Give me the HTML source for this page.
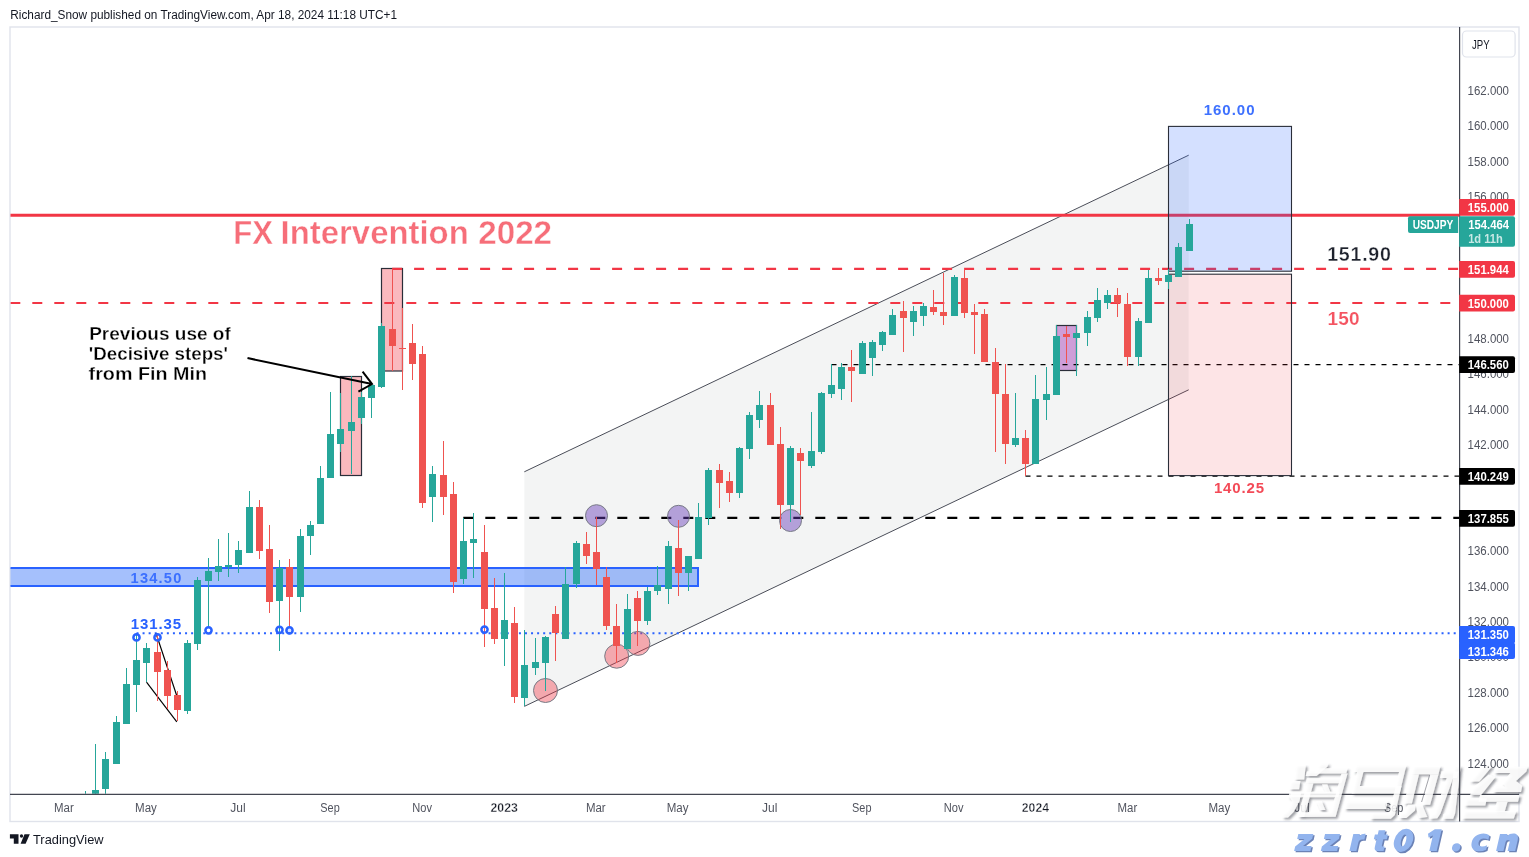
<!DOCTYPE html>
<html><head><meta charset="utf-8"><title>USDJPY</title>
<style>
html,body{margin:0;padding:0;background:#fff;}
body{width:1529px;height:857px;overflow:hidden;font-family:"Liberation Sans",sans-serif;}
svg{display:block;position:absolute;left:0;top:0;}
text{font-family:"Liberation Sans",sans-serif;}
.ax{font-size:12.3px;fill:#50535e;}
.tm{font-size:12.5px;fill:#50535e;}
.lb{font-size:12.7px;font-weight:bold;fill:#fff;}
</style></head><body>
<svg width="1529" height="857" viewBox="0 0 1529 857" style="opacity:0.9999">
<rect x="0" y="0" width="1529" height="857" fill="#fff"/>

<text x="10.3" y="18.7" font-size="12px" fill="#131722" textLength="386.7" lengthAdjust="spacingAndGlyphs">Richard_Snow published on TradingView.com, Apr 18, 2024 11:18 UTC+1</text>
<rect x="10" y="27" width="1509" height="794.5" fill="none" stroke="#e0e3eb" stroke-width="1.4"/>
<defs><clipPath id="cp"><rect x="10.5" y="27.5" width="1448.7" height="766.3"/></clipPath></defs>
<g clip-path="url(#cp)">
<polygon points="524.3,471.8 1188.7,155.2 1188.7,389.8 524.3,706.4" fill="#808585" fill-opacity="0.095"/>
<line x1="524.3" y1="471.8" x2="1188.7" y2="155.2" stroke="#4a4d58" stroke-width="1"/>
<line x1="524.3" y1="706.4" x2="1188.7" y2="389.8" stroke="#4a4d58" stroke-width="1"/>
<rect x="340.5" y="376.5" width="21" height="99" fill="#f23645" fill-opacity="0.35" stroke="#2a2e39" stroke-width="1.2"/>
<rect x="381.5" y="268.5" width="21" height="102.5" fill="#f23645" fill-opacity="0.35" stroke="#2a2e39" stroke-width="1.2"/>
<rect x="1056.5" y="325.5" width="20" height="45" fill="#9c27b0" fill-opacity="0.42" stroke="#2a2e39" stroke-width="1.2"/>
<rect x="0" y="568" width="698" height="18" fill="#2868f8" fill-opacity="0.42" stroke="#2962ff" stroke-width="2"/>
<line x1="10" y1="215.3" x2="1459" y2="215.3" stroke="#f23645" stroke-width="3"/>
<line x1="392.1" y1="268.9" x2="1459" y2="268.9" stroke="#f23645" stroke-width="2.1" stroke-dasharray="10 12"/>
<line x1="10.3" y1="303" x2="1459" y2="303" stroke="#f23645" stroke-width="2.1" stroke-dasharray="10 12"/>
<line x1="463.3" y1="517.8" x2="1459" y2="517.8" stroke="#000" stroke-width="2.2" stroke-dasharray="10 12"/>
<line x1="831.5" y1="364.5" x2="1459" y2="364.5" stroke="#000" stroke-width="1.25" stroke-dasharray="5 6"/>
<line x1="1025.5" y1="476.2" x2="1459" y2="476.2" stroke="#000" stroke-width="1.25" stroke-dasharray="5 6"/>
<line x1="136.5" y1="633.3" x2="1459" y2="633.3" stroke="#2962ff" stroke-width="2" stroke-dasharray="2 4.07"/>
<rect x="1168.5" y="126.4" width="123" height="144.8" fill="#2962ff" fill-opacity="0.2" stroke="#2a2e39" stroke-width="1.1"/>
<rect x="1168.5" y="274.2" width="123" height="201.4" fill="#f23645" fill-opacity="0.135" stroke="#2a2e39" stroke-width="1.1"/>
<circle cx="596.5" cy="515.7" r="11" fill="#673ab7" fill-opacity="0.45" stroke="#787b86" stroke-width="1"/>
<circle cx="678.5" cy="516.3" r="11" fill="#673ab7" fill-opacity="0.45" stroke="#787b86" stroke-width="1"/>
<circle cx="790.5" cy="520.5" r="11" fill="#673ab7" fill-opacity="0.45" stroke="#787b86" stroke-width="1"/>
<circle cx="545.5" cy="690.5" r="12" fill="#f23645" fill-opacity="0.4" stroke="#787b86" stroke-width="1"/>
<circle cx="616.7" cy="656.2" r="12" fill="#f23645" fill-opacity="0.4" stroke="#787b86" stroke-width="1"/>
<circle cx="637.9" cy="643.4" r="12" fill="#f23645" fill-opacity="0.4" stroke="#787b86" stroke-width="1"/>
<line x1="156" y1="633.2" x2="176.6" y2="695.2" stroke="#000" stroke-width="1.15"/>
<line x1="146.5" y1="682.1" x2="176.8" y2="721.8" stroke="#000" stroke-width="1.15"/>
<g shape-rendering="crispEdges">
<rect x="85.0" y="791.0" width="1" height="3.0" fill="#26a69a"/>
<rect x="82.0" y="793.5" width="7" height="1.2" fill="#26a69a"/>
<rect x="95.0" y="744.0" width="1" height="50.0" fill="#26a69a"/>
<rect x="92.0" y="790.0" width="7" height="4.0" fill="#26a69a"/>
<rect x="105.0" y="752.0" width="1" height="42.0" fill="#26a69a"/>
<rect x="102.0" y="759.0" width="7" height="30.0" fill="#26a69a"/>
<rect x="116.0" y="716.0" width="1" height="47.5" fill="#26a69a"/>
<rect x="113.0" y="722.0" width="7" height="41.5" fill="#26a69a"/>
<rect x="126.0" y="668.0" width="1" height="55.7" fill="#26a69a"/>
<rect x="123.0" y="684.0" width="7" height="39.7" fill="#26a69a"/>
<rect x="136.0" y="634.0" width="1" height="77.6" fill="#26a69a"/>
<rect x="133.0" y="660.0" width="7" height="24.7" fill="#26a69a"/>
<rect x="146.0" y="643.2" width="1" height="38.9" fill="#26a69a"/>
<rect x="143.0" y="648.3" width="7" height="14.2" fill="#26a69a"/>
<rect x="157.0" y="634.0" width="1" height="66.8" fill="#ef5350"/>
<rect x="154.0" y="651.8" width="7" height="19.8" fill="#ef5350"/>
<rect x="167.0" y="661.0" width="1" height="48.0" fill="#ef5350"/>
<rect x="164.0" y="670.0" width="7" height="25.7" fill="#ef5350"/>
<rect x="177.0" y="691.0" width="1" height="30.4" fill="#ef5350"/>
<rect x="174.0" y="695.0" width="7" height="14.7" fill="#ef5350"/>
<rect x="187.0" y="640.0" width="1" height="73.6" fill="#26a69a"/>
<rect x="184.0" y="643.2" width="7" height="68.2" fill="#26a69a"/>
<rect x="197.0" y="577.4" width="1" height="72.1" fill="#26a69a"/>
<rect x="194.0" y="580.2" width="7" height="63.5" fill="#26a69a"/>
<rect x="208.0" y="558.0" width="1" height="69.0" fill="#26a69a"/>
<rect x="205.0" y="571.3" width="7" height="10.1" fill="#26a69a"/>
<rect x="218.0" y="539.3" width="1" height="42.1" fill="#26a69a"/>
<rect x="215.0" y="566.4" width="7" height="5.2" fill="#26a69a"/>
<rect x="228.0" y="533.0" width="1" height="43.7" fill="#26a69a"/>
<rect x="225.0" y="565.3" width="7" height="1.7" fill="#26a69a"/>
<rect x="238.0" y="541.2" width="1" height="31.5" fill="#26a69a"/>
<rect x="235.0" y="550.1" width="7" height="14.5" fill="#26a69a"/>
<rect x="249.0" y="491.0" width="1" height="61.6" fill="#26a69a"/>
<rect x="246.0" y="507.1" width="7" height="45.5" fill="#26a69a"/>
<rect x="259.0" y="500.1" width="1" height="58.4" fill="#ef5350"/>
<rect x="256.0" y="507.1" width="7" height="43.4" fill="#ef5350"/>
<rect x="269.0" y="525.3" width="1" height="87.6" fill="#ef5350"/>
<rect x="266.0" y="548.9" width="7" height="52.8" fill="#ef5350"/>
<rect x="279.0" y="560.4" width="1" height="90.3" fill="#26a69a"/>
<rect x="276.0" y="568.0" width="7" height="32.7" fill="#26a69a"/>
<rect x="289.0" y="559.2" width="1" height="67.8" fill="#ef5350"/>
<rect x="286.0" y="567.4" width="7" height="29.1" fill="#ef5350"/>
<rect x="300.0" y="529.3" width="1" height="82.4" fill="#26a69a"/>
<rect x="297.0" y="536.1" width="7" height="60.4" fill="#26a69a"/>
<rect x="310.0" y="521.1" width="1" height="33.4" fill="#26a69a"/>
<rect x="307.0" y="525.1" width="7" height="11.2" fill="#26a69a"/>
<rect x="320.0" y="466.3" width="1" height="57.2" fill="#26a69a"/>
<rect x="317.0" y="478.2" width="7" height="45.3" fill="#26a69a"/>
<rect x="330.0" y="392.0" width="1" height="86.4" fill="#26a69a"/>
<rect x="327.0" y="434.0" width="7" height="44.4" fill="#26a69a"/>
<rect x="340.0" y="392.7" width="1" height="59.3" fill="#26a69a"/>
<rect x="337.0" y="428.9" width="7" height="14.9" fill="#26a69a"/>
<rect x="351.0" y="375.7" width="1" height="98.0" fill="#26a69a"/>
<rect x="348.0" y="421.9" width="7" height="9.1" fill="#26a69a"/>
<rect x="361.0" y="392.0" width="1" height="31.5" fill="#26a69a"/>
<rect x="358.0" y="397.2" width="7" height="20.5" fill="#26a69a"/>
<rect x="371.0" y="385.0" width="1" height="32.7" fill="#26a69a"/>
<rect x="368.0" y="385.0" width="7" height="12.9" fill="#26a69a"/>
<rect x="381.0" y="323.2" width="1" height="64.6" fill="#26a69a"/>
<rect x="378.0" y="326.0" width="7" height="60.7" fill="#26a69a"/>
<rect x="392.0" y="268.6" width="1" height="102.4" fill="#ef5350"/>
<rect x="389.0" y="329.0" width="7" height="16.8" fill="#ef5350"/>
<rect x="402.0" y="308.0" width="1" height="81.7" fill="#ef5350"/>
<rect x="399.0" y="347.7" width="7" height="1.5" fill="#ef5350"/>
<rect x="412.0" y="323.9" width="1" height="55.8" fill="#ef5350"/>
<rect x="409.0" y="343.0" width="7" height="20.5" fill="#ef5350"/>
<rect x="422.0" y="346.0" width="1" height="161.7" fill="#ef5350"/>
<rect x="419.0" y="354.2" width="7" height="149.2" fill="#ef5350"/>
<rect x="432.0" y="466.2" width="1" height="55.6" fill="#26a69a"/>
<rect x="429.0" y="474.1" width="7" height="22.4" fill="#26a69a"/>
<rect x="443.0" y="441.0" width="1" height="73.7" fill="#ef5350"/>
<rect x="440.0" y="475.1" width="7" height="21.4" fill="#ef5350"/>
<rect x="453.0" y="482.1" width="1" height="110.5" fill="#ef5350"/>
<rect x="450.0" y="494.2" width="7" height="87.3" fill="#ef5350"/>
<rect x="463.0" y="517.5" width="1" height="66.2" fill="#26a69a"/>
<rect x="460.0" y="541.4" width="7" height="37.2" fill="#26a69a"/>
<rect x="473.0" y="512.9" width="1" height="64.7" fill="#26a69a"/>
<rect x="470.0" y="539.3" width="7" height="3.5" fill="#26a69a"/>
<rect x="484.0" y="525.0" width="1" height="121.7" fill="#ef5350"/>
<rect x="481.0" y="552.1" width="7" height="56.6" fill="#ef5350"/>
<rect x="494.0" y="578.0" width="1" height="65.9" fill="#ef5350"/>
<rect x="491.0" y="608.0" width="7" height="30.5" fill="#ef5350"/>
<rect x="504.0" y="573.0" width="1" height="92.6" fill="#26a69a"/>
<rect x="501.0" y="620.0" width="7" height="18.5" fill="#26a69a"/>
<rect x="514.0" y="607.0" width="1" height="95.7" fill="#ef5350"/>
<rect x="511.0" y="623.1" width="7" height="73.7" fill="#ef5350"/>
<rect x="524.0" y="630.1" width="1" height="76.1" fill="#26a69a"/>
<rect x="521.0" y="665.3" width="7" height="32.7" fill="#26a69a"/>
<rect x="535.0" y="638.0" width="1" height="36.7" fill="#26a69a"/>
<rect x="532.0" y="662.1" width="7" height="5.8" fill="#26a69a"/>
<rect x="545.0" y="636.0" width="1" height="54.5" fill="#26a69a"/>
<rect x="542.0" y="636.8" width="7" height="26.2" fill="#26a69a"/>
<rect x="555.0" y="606.0" width="1" height="54.7" fill="#ef5350"/>
<rect x="552.0" y="614.2" width="7" height="18.7" fill="#ef5350"/>
<rect x="565.0" y="567.2" width="1" height="71.5" fill="#26a69a"/>
<rect x="562.0" y="583.9" width="7" height="54.8" fill="#26a69a"/>
<rect x="576.0" y="541.4" width="1" height="46.3" fill="#26a69a"/>
<rect x="573.0" y="543.0" width="7" height="41.0" fill="#26a69a"/>
<rect x="586.0" y="532.0" width="1" height="32.0" fill="#ef5350"/>
<rect x="583.0" y="544.2" width="7" height="11.5" fill="#ef5350"/>
<rect x="596.0" y="516.8" width="1" height="68.2" fill="#ef5350"/>
<rect x="593.0" y="552.1" width="7" height="16.5" fill="#ef5350"/>
<rect x="606.0" y="567.2" width="1" height="62.6" fill="#ef5350"/>
<rect x="603.0" y="577.0" width="7" height="48.9" fill="#ef5350"/>
<rect x="616.0" y="604.0" width="1" height="59.0" fill="#ef5350"/>
<rect x="613.0" y="625.9" width="7" height="20.3" fill="#ef5350"/>
<rect x="627.0" y="594.0" width="1" height="55.0" fill="#26a69a"/>
<rect x="624.0" y="609.1" width="7" height="39.9" fill="#26a69a"/>
<rect x="637.0" y="591.0" width="1" height="54.7" fill="#ef5350"/>
<rect x="634.0" y="597.9" width="7" height="23.1" fill="#ef5350"/>
<rect x="647.0" y="586.5" width="1" height="38.2" fill="#26a69a"/>
<rect x="644.0" y="591.3" width="7" height="29.7" fill="#26a69a"/>
<rect x="657.0" y="566.2" width="1" height="28.5" fill="#26a69a"/>
<rect x="654.0" y="585.1" width="7" height="5.6" fill="#26a69a"/>
<rect x="668.0" y="541.0" width="1" height="62.7" fill="#26a69a"/>
<rect x="665.0" y="546.2" width="7" height="42.3" fill="#26a69a"/>
<rect x="678.0" y="520.0" width="1" height="76.0" fill="#ef5350"/>
<rect x="675.0" y="548.1" width="7" height="24.6" fill="#ef5350"/>
<rect x="688.0" y="555.9" width="1" height="35.0" fill="#26a69a"/>
<rect x="685.0" y="555.9" width="7" height="16.8" fill="#26a69a"/>
<rect x="698.0" y="503.0" width="1" height="55.6" fill="#26a69a"/>
<rect x="695.0" y="517.0" width="7" height="41.6" fill="#26a69a"/>
<rect x="708.0" y="468.0" width="1" height="56.5" fill="#26a69a"/>
<rect x="705.0" y="469.9" width="7" height="48.3" fill="#26a69a"/>
<rect x="719.0" y="464.0" width="1" height="43.7" fill="#ef5350"/>
<rect x="716.0" y="470.4" width="7" height="12.3" fill="#ef5350"/>
<rect x="729.0" y="472.0" width="1" height="29.9" fill="#ef5350"/>
<rect x="726.0" y="481.3" width="7" height="11.2" fill="#ef5350"/>
<rect x="739.0" y="447.0" width="1" height="50.7" fill="#26a69a"/>
<rect x="736.0" y="448.2" width="7" height="44.3" fill="#26a69a"/>
<rect x="749.0" y="412.0" width="1" height="46.7" fill="#26a69a"/>
<rect x="746.0" y="415.0" width="7" height="33.6" fill="#26a69a"/>
<rect x="759.0" y="391.0" width="1" height="36.6" fill="#26a69a"/>
<rect x="756.0" y="405.2" width="7" height="14.3" fill="#26a69a"/>
<rect x="770.0" y="392.9" width="1" height="51.8" fill="#ef5350"/>
<rect x="767.0" y="405.2" width="7" height="39.5" fill="#ef5350"/>
<rect x="780.0" y="427.2" width="1" height="101.5" fill="#ef5350"/>
<rect x="777.0" y="444.2" width="7" height="60.5" fill="#ef5350"/>
<rect x="790.0" y="446.3" width="1" height="75.4" fill="#26a69a"/>
<rect x="787.0" y="448.2" width="7" height="56.5" fill="#26a69a"/>
<rect x="800.0" y="448.2" width="1" height="66.5" fill="#ef5350"/>
<rect x="797.0" y="453.3" width="7" height="7.2" fill="#ef5350"/>
<rect x="811.0" y="412.0" width="1" height="55.5" fill="#26a69a"/>
<rect x="808.0" y="451.2" width="7" height="14.5" fill="#26a69a"/>
<rect x="821.0" y="391.8" width="1" height="61.7" fill="#26a69a"/>
<rect x="818.0" y="392.9" width="7" height="58.8" fill="#26a69a"/>
<rect x="831.0" y="364.4" width="1" height="33.1" fill="#26a69a"/>
<rect x="828.0" y="385.2" width="7" height="8.3" fill="#26a69a"/>
<rect x="841.0" y="363.2" width="1" height="36.5" fill="#26a69a"/>
<rect x="838.0" y="367.2" width="7" height="21.6" fill="#26a69a"/>
<rect x="851.0" y="349.9" width="1" height="51.8" fill="#ef5350"/>
<rect x="848.0" y="367.2" width="7" height="3.5" fill="#ef5350"/>
<rect x="862.0" y="341.0" width="1" height="32.7" fill="#26a69a"/>
<rect x="859.0" y="342.9" width="7" height="30.8" fill="#26a69a"/>
<rect x="872.0" y="339.8" width="1" height="36.2" fill="#26a69a"/>
<rect x="869.0" y="342.2" width="7" height="15.6" fill="#26a69a"/>
<rect x="882.0" y="331.0" width="1" height="19.8" fill="#26a69a"/>
<rect x="879.0" y="331.9" width="7" height="12.8" fill="#26a69a"/>
<rect x="892.0" y="308.8" width="1" height="25.9" fill="#26a69a"/>
<rect x="889.0" y="314.9" width="7" height="19.8" fill="#26a69a"/>
<rect x="903.0" y="300.9" width="1" height="51.1" fill="#ef5350"/>
<rect x="900.0" y="311.1" width="7" height="6.6" fill="#ef5350"/>
<rect x="913.0" y="306.0" width="1" height="29.9" fill="#26a69a"/>
<rect x="910.0" y="311.1" width="7" height="10.8" fill="#26a69a"/>
<rect x="923.0" y="303.0" width="1" height="22.8" fill="#26a69a"/>
<rect x="920.0" y="306.0" width="7" height="9.8" fill="#26a69a"/>
<rect x="933.0" y="289.7" width="1" height="25.2" fill="#ef5350"/>
<rect x="930.0" y="307.2" width="7" height="4.6" fill="#ef5350"/>
<rect x="943.0" y="272.6" width="1" height="52.1" fill="#ef5350"/>
<rect x="940.0" y="312.1" width="7" height="3.7" fill="#ef5350"/>
<rect x="954.0" y="275.0" width="1" height="40.8" fill="#26a69a"/>
<rect x="951.0" y="277.1" width="7" height="38.7" fill="#26a69a"/>
<rect x="964.0" y="268.7" width="1" height="48.9" fill="#ef5350"/>
<rect x="961.0" y="278.0" width="7" height="34.5" fill="#ef5350"/>
<rect x="974.0" y="304.3" width="1" height="49.4" fill="#ef5350"/>
<rect x="971.0" y="312.1" width="7" height="2.5" fill="#ef5350"/>
<rect x="984.0" y="309.2" width="1" height="52.5" fill="#ef5350"/>
<rect x="981.0" y="314.1" width="7" height="47.6" fill="#ef5350"/>
<rect x="995.0" y="348.2" width="1" height="103.3" fill="#ef5350"/>
<rect x="992.0" y="362.0" width="7" height="31.6" fill="#ef5350"/>
<rect x="1005.0" y="364.0" width="1" height="99.9" fill="#ef5350"/>
<rect x="1002.0" y="394.0" width="7" height="49.6" fill="#ef5350"/>
<rect x="1015.0" y="392.7" width="1" height="54.1" fill="#26a69a"/>
<rect x="1012.0" y="438.0" width="7" height="6.8" fill="#26a69a"/>
<rect x="1025.0" y="430.0" width="1" height="46.0" fill="#ef5350"/>
<rect x="1022.0" y="438.0" width="7" height="25.6" fill="#ef5350"/>
<rect x="1035.0" y="375.0" width="1" height="88.9" fill="#26a69a"/>
<rect x="1032.0" y="399.0" width="7" height="64.9" fill="#26a69a"/>
<rect x="1046.0" y="367.0" width="1" height="53.0" fill="#26a69a"/>
<rect x="1043.0" y="394.2" width="7" height="5.5" fill="#26a69a"/>
<rect x="1056.0" y="325.0" width="1" height="69.6" fill="#26a69a"/>
<rect x="1053.0" y="336.0" width="7" height="58.6" fill="#26a69a"/>
<rect x="1066.0" y="325.7" width="1" height="37.1" fill="#ef5350"/>
<rect x="1063.0" y="333.9" width="7" height="2.8" fill="#ef5350"/>
<rect x="1076.0" y="325.0" width="1" height="50.6" fill="#26a69a"/>
<rect x="1073.0" y="333.2" width="7" height="4.6" fill="#26a69a"/>
<rect x="1087.0" y="311.0" width="1" height="35.0" fill="#26a69a"/>
<rect x="1084.0" y="317.3" width="7" height="15.4" fill="#26a69a"/>
<rect x="1097.0" y="288.0" width="1" height="34.0" fill="#26a69a"/>
<rect x="1094.0" y="300.0" width="7" height="17.5" fill="#26a69a"/>
<rect x="1107.0" y="290.0" width="1" height="18.7" fill="#26a69a"/>
<rect x="1104.0" y="295.1" width="7" height="7.7" fill="#26a69a"/>
<rect x="1117.0" y="288.0" width="1" height="28.8" fill="#ef5350"/>
<rect x="1114.0" y="295.1" width="7" height="7.7" fill="#ef5350"/>
<rect x="1127.0" y="293.0" width="1" height="72.8" fill="#ef5350"/>
<rect x="1124.0" y="304.0" width="7" height="53.0" fill="#ef5350"/>
<rect x="1138.0" y="318.0" width="1" height="47.8" fill="#26a69a"/>
<rect x="1135.0" y="321.0" width="7" height="36.0" fill="#26a69a"/>
<rect x="1148.0" y="270.0" width="1" height="52.7" fill="#26a69a"/>
<rect x="1145.0" y="278.0" width="7" height="44.7" fill="#26a69a"/>
<rect x="1158.0" y="268.0" width="1" height="16.9" fill="#ef5350"/>
<rect x="1155.0" y="278.1" width="7" height="2.8" fill="#ef5350"/>
<rect x="1168.0" y="268.8" width="1" height="20.0" fill="#26a69a"/>
<rect x="1165.0" y="275.1" width="7" height="6.9" fill="#26a69a"/>
<rect x="1178.0" y="243.1" width="1" height="33.8" fill="#26a69a"/>
<rect x="1175.0" y="247.0" width="7" height="29.9" fill="#26a69a"/>
<rect x="1189.0" y="219.1" width="1" height="31.7" fill="#26a69a"/>
<rect x="1186.0" y="224.0" width="7" height="26.8" fill="#26a69a"/>
</g>
<path d="M247.5 358.1 L372 384 M362.6 371.7 L372 384 L358.4 391.6" fill="none" stroke="#000" stroke-width="2" stroke-linecap="butt" stroke-linejoin="miter"/>
<circle cx="136.5" cy="637.4" r="3.1" fill="#2962ff" fill-opacity="0" stroke="#2962ff" stroke-width="2.5"/>
<circle cx="157.5" cy="637.4" r="3.1" fill="#2962ff" fill-opacity="0" stroke="#2962ff" stroke-width="2.5"/>
<circle cx="208.5" cy="630.3" r="3.1" fill="#2962ff" fill-opacity="0" stroke="#2962ff" stroke-width="2.5"/>
<circle cx="279.5" cy="629.8" r="3.1" fill="#2962ff" fill-opacity="0" stroke="#2962ff" stroke-width="2.5"/>
<circle cx="289.5" cy="630.4" r="3.1" fill="#2962ff" fill-opacity="0.18" stroke="#2962ff" stroke-width="2.5"/>
<circle cx="484.5" cy="629.6" r="3.1" fill="#2962ff" fill-opacity="0" stroke="#2962ff" stroke-width="2.5"/>
<g font-size="33.4px" font-weight="bold" fill="#f23645" fill-opacity="0.72" stroke="#fff" stroke-width="0.4">
<text x="233.2" y="244" textLength="39.7" lengthAdjust="spacingAndGlyphs">FX</text>
<text x="280.6" y="244" textLength="188.2" lengthAdjust="spacingAndGlyphs">Intervention</text>
<text x="478.2" y="244" textLength="73.9" lengthAdjust="spacingAndGlyphs">2022</text>
</g>
<g font-size="19.2px" font-weight="bold" fill="#000" stroke="#fff" stroke-width="0.32">
<text x="89.2" y="339.6" textLength="141.6" lengthAdjust="spacingAndGlyphs">Previous use of</text>
<text x="88.8" y="359.8" textLength="139.2" lengthAdjust="spacingAndGlyphs">'Decisive steps'</text>
<text x="88.6" y="380" textLength="118.4" lengthAdjust="spacingAndGlyphs">from Fin Min</text>
</g>
<text x="130.8" y="629.4" font-size="15px" font-weight="bold" fill="#2962ff" textLength="50.4" lengthAdjust="spacing">131.35</text>
<text x="130.6" y="582.5" font-size="14.6px" font-weight="bold" fill="#2962ff" fill-opacity="0.85" textLength="50.7" lengthAdjust="spacing">134.50</text>
<text x="1203.7" y="114.5" font-size="15px" font-weight="bold" fill="#2962ff" fill-opacity="0.9" textLength="50.8" lengthAdjust="spacing">160.00</text>
<text x="1213.9" y="493" font-size="15px" font-weight="bold" fill="#f23645" fill-opacity="0.9" textLength="50.2" lengthAdjust="spacing">140.25</text>
<text x="1327.2" y="260.7" font-size="19.6px" font-weight="bold" fill="#1e222d" textLength="63.7" lengthAdjust="spacing" stroke="#fff" stroke-width="0.3">151.90</text>
<text x="1327.4" y="324.8" font-size="19px" font-weight="bold" fill="#f23645" fill-opacity="0.85" textLength="32.2" lengthAdjust="spacing" stroke="#fff" stroke-width="0.15">150</text>
</g>
<line x1="10" y1="794.3" x2="1519" y2="794.3" stroke="#434651" stroke-width="1.2"/>
<text class="tm" x="54.1" y="811.6" textLength="19.7" lengthAdjust="spacingAndGlyphs">Mar</text>
<text class="tm" x="135.1" y="811.6" textLength="21.8" lengthAdjust="spacingAndGlyphs">May</text>
<text class="tm" x="230.3" y="811.6" textLength="15.3" lengthAdjust="spacingAndGlyphs">Jul</text>
<text class="tm" x="320.3" y="811.6" textLength="19.4" lengthAdjust="spacingAndGlyphs">Sep</text>
<text class="tm" x="412.3" y="811.6" textLength="19.7" lengthAdjust="spacingAndGlyphs">Nov</text>
<text class="tm" x="490.5" y="811.6" textLength="27.3" lengthAdjust="spacingAndGlyphs" style="font-weight:bold;fill:#131722;stroke:#fff;stroke-width:0.35px">2023</text>
<text class="tm" x="585.9" y="811.6" textLength="19.7" lengthAdjust="spacingAndGlyphs">Mar</text>
<text class="tm" x="666.7" y="811.6" textLength="21.8" lengthAdjust="spacingAndGlyphs">May</text>
<text class="tm" x="762.0" y="811.6" textLength="15.3" lengthAdjust="spacingAndGlyphs">Jul</text>
<text class="tm" x="852.1" y="811.6" textLength="19.4" lengthAdjust="spacingAndGlyphs">Sep</text>
<text class="tm" x="943.8" y="811.6" textLength="19.7" lengthAdjust="spacingAndGlyphs">Nov</text>
<text class="tm" x="1021.8" y="811.6" textLength="27.2" lengthAdjust="spacingAndGlyphs" style="font-weight:bold;fill:#131722;stroke:#fff;stroke-width:0.35px">2024</text>
<text class="tm" x="1117.6" y="811.6" textLength="19.7" lengthAdjust="spacingAndGlyphs">Mar</text>
<text class="tm" x="1208.5" y="811.6" textLength="21.8" lengthAdjust="spacingAndGlyphs">May</text>
<text class="tm" x="1294.3" y="811.6" textLength="15.3" lengthAdjust="spacingAndGlyphs">Jul</text>
<text class="tm" x="1384.0" y="811.6" textLength="19.4" lengthAdjust="spacingAndGlyphs">Sep</text>
<path d="M9.9 834.2 H18.5 V843.8 H13.8 V838.6 H9.9 Z" fill="#131722"/>
<circle cx="21.5" cy="836" r="1.65" fill="#131722"/>
<path d="M24.5 834.2 H29.8 L25.6 843.8 H20.6 Z" fill="#131722"/>
<text x="33" y="843.8" font-size="13px" fill="#131722" textLength="70.6" lengthAdjust="spacingAndGlyphs">TradingView</text>
<defs><filter id="sh" x="-5%" y="-10%" width="110%" height="125%"><feGaussianBlur in="SourceAlpha" stdDeviation="0.85" result="b"/><feOffset in="b" dx="1.6" dy="1.6" result="o"/><feFlood flood-color="#3a3d48" flood-opacity="0.56"/><feComposite in2="o" operator="in" result="s"/><feMerge><feMergeNode in="s"/><feMergeNode in="SourceGraphic"/></feMerge></filter></defs>
<g filter="url(#sh)" fill="#fff" fill-opacity="0.86">
<polygon points="1295.9,765.1 1305.8,765.1 1304.2,779.4 1294.3,779.4"/>
<polygon points="1290.7,781 1300.3,781 1299.1,789.3 1289.2,789.3"/>
<polygon points="1290.7,792.9 1301.1,792.9 1299.5,800.9 1293.5,812 1288,817.5 1282.4,817.5 1282.4,813.6 1287.2,810.4 1291.9,800.9 1290,797.7"/>
<polygon points="1319.7,763.6 1328.4,763.6 1327.3,766.7 1316.5,775.9 1305.8,775.9 1307,771.5 1314.2,771.5"/>
<polygon points="1315.7,768.3 1347.5,768.3 1346.3,773.5 1314.6,773.5"/>
<polygon points="1341.5,773.5 1347.5,773.5 1335.6,816.7 1299.9,817.1 1301.1,812.4 1330,812.4 1331.6,809.6"/>
<polygon points="1307,778.2 1342.7,778.2 1341.5,783.2 1305.8,783.2"/>
<polygon points="1307,783.2 1313.4,783.2 1304.2,817.1 1297.9,817.1"/>
<polygon points="1322.1,784.6 1327.3,784.6 1330.8,792.9 1325.7,792.9"/>
<polygon points="1316.5,801.3 1321.7,801.3 1325.3,810 1320.1,810"/>
<polygon points="1289.6,791.7 1339.6,791.7 1338.4,797.3 1288.4,797.3"/>
<polygon points="1355.1,765.5 1406.3,765.5 1404.7,772.1 1353.5,772.1"/>
<polygon points="1399.1,772.1 1404.7,772.1 1399.5,793.7 1394,793.7"/>
<polygon points="1357.1,772.1 1363.4,772.1 1359.8,785.9 1353.5,785.9"/>
<polygon points="1353.5,785.9 1401.5,785.9 1399.7,793.5 1351.7,793.5"/>
<polygon points="1394,793.5 1399.7,793.5 1394.8,815.1 1390.8,818.7 1370.2,818.7 1371.3,813.2 1388.8,813.2 1390,811.2"/>
<polygon points="1346,801.5 1387.6,801.5 1386,809 1344.4,809"/>
<polygon points="1413.1,765.9 1440.4,765.9 1438.5,774.3 1411.1,774.3"/>
<polygon points="1411.1,774.3 1419,774.3 1411.9,803.6 1403.9,803.6"/>
<polygon points="1430.1,774.3 1438.5,774.3 1430.1,804.8 1422.2,804.8"/>
<polygon points="1407.9,804.8 1415.8,804.8 1415,810.4 1406.3,817.9 1399.2,817.9 1400,813.6 1404.7,812.8"/>
<polygon points="1415.8,804.8 1422.2,804.8 1427.3,817.1 1419,817.9 1417.4,812.8"/>
<polygon points="1441.6,771.5 1458.7,771.5 1457.1,778 1440,778"/>
<polygon points="1454.3,765.9 1460.7,765.9 1455.1,813.6 1453.1,818.7 1442.8,818.7 1443.6,814 1448,813.6 1449.2,808.8"/>
<polygon points="1446.8,778 1453.1,778 1440.4,813.6 1437.3,818.3 1429.3,818.7 1430.1,815.1 1434.1,813.6 1435.7,809.6"/>
<polygon points="1482.7,765.6 1492.8,765.6 1479.4,781.5 1469.3,781.5"/>
<polygon points="1488.6,774.8 1495.3,777.3 1481.1,795 1470.1,795 1471.8,789.1"/>
<polygon points="1495.3,767.2 1527.7,766.4 1526.4,771.4 1515.9,781.1 1522.2,785.7 1521,792 1492.8,792 1494.5,786.6 1505.4,786.6 1502.1,783.2 1510.5,773.1 1494.1,773.1"/>
<polygon points="1480.2,795 1519.7,795 1518,801.7 1478.5,801.7"/>
<polygon points="1465.9,798.3 1486.9,798.3 1485.3,805.5 1464.2,805.5"/>
<polygon points="1497,801.7 1507.5,801.7 1504.6,811.8 1494.1,811.8"/>
<polygon points="1464.2,810.9 1516.3,810.9 1513.8,818.5 1461.7,818.5"/>
</g>
<line x1="1429.7" y1="775" x2="1421.6" y2="802" stroke="#555862" stroke-opacity="0.55" stroke-width="1"/>
<g transform="translate(1.4,852.3) skewX(-13)" fill="#6b82b6" fill-rule="evenodd">
<path transform="translate(1294.4,0)" d="M0 -17 H15 V-12.3 L7.5 -5 H16 V0 H-0.3 V-4.6 L7.3 -12.1 H0 Z"/>
<path transform="translate(1321.1,0)" d="M0 -17 H15 V-12.3 L7.5 -5 H16 V0 H-0.3 V-4.6 L7.3 -12.1 H0 Z"/>
<path transform="translate(1349.4,0)" d="M0 0 H7 V-8.5 Q7 -11.6 10 -11.6 H12.3 V-17.2 Q8.3 -17.6 6.6 -14.8 V-17 H0 Z"/>
<path transform="translate(1373.6,0)" d="M0.3 -20.8 H7 V-16.6 H10.5 V-11.7 H7 V-5.5 Q7 -4.5 8 -4.5 H10 V0 H4 Q0.3 0 0.3 -4 V-11.7 H-2.5 V-16.6 H0.3 Z"/>
<path transform="translate(1391.7,0)" d="M0 -10.6 a9.4 11.6 0 1 0 18.8 0 a9.4 11.6 0 1 0 -18.8 0 Z M6.9 -10.6 a2.5 6 0 1 1 5 0 a2.5 6 0 1 1 -5 0 Z"/>
<path transform="translate(1424,0)" d="M5.3 0 H12.7 V-21.7 H5.8 L0 -17.3 L1.4 -13.6 L5.3 -15.6 Z"/>
<path transform="translate(1451.2,0)" d="M0 -3.6 a4.1 4.1 0 1 0 8.2 0 a4.1 4.1 0 1 0 -8.2 0 Z"/>
<path transform="translate(1469.7,0)" d="M16.1 -11.2 L16.1 -15.8 Q13.3 -17.4 9.8 -17.4 C3.8 -17.4 0 -13.5 0 -8.6 C0 -3.5 3.6 0.3 9.3 0.3 Q13.3 0.3 16.1 -1.2 L16.1 -5.8 Q13.8 -4.6 11.3 -4.6 C8.6 -4.6 6.9 -6 6.9 -8.6 C6.9 -11 8.6 -12.4 11.1 -12.4 Q13.8 -12.4 16.1 -11.2 Z"/>
<path transform="translate(1496.1,0)" d="M0 0 H7.4 V-9 Q7.4 -11 9.4 -11 Q11.5 -11 11.5 -9 V0 H19.1 V-11 C19.1 -15.5 16.4 -17.4 13.2 -17.4 Q9.4 -17.4 7.4 -15 V-17 H0 Z"/>
</g>
<g transform="translate(0,851) skewX(-13)" fill="#92b4ee" fill-rule="evenodd">
<path transform="translate(1294.4,0)" d="M0 -17 H15 V-12.3 L7.5 -5 H16 V0 H-0.3 V-4.6 L7.3 -12.1 H0 Z"/>
<path transform="translate(1321.1,0)" d="M0 -17 H15 V-12.3 L7.5 -5 H16 V0 H-0.3 V-4.6 L7.3 -12.1 H0 Z"/>
<path transform="translate(1349.4,0)" d="M0 0 H7 V-8.5 Q7 -11.6 10 -11.6 H12.3 V-17.2 Q8.3 -17.6 6.6 -14.8 V-17 H0 Z"/>
<path transform="translate(1373.6,0)" d="M0.3 -20.8 H7 V-16.6 H10.5 V-11.7 H7 V-5.5 Q7 -4.5 8 -4.5 H10 V0 H4 Q0.3 0 0.3 -4 V-11.7 H-2.5 V-16.6 H0.3 Z"/>
<path transform="translate(1391.7,0)" d="M0 -10.6 a9.4 11.6 0 1 0 18.8 0 a9.4 11.6 0 1 0 -18.8 0 Z M6.9 -10.6 a2.5 6 0 1 1 5 0 a2.5 6 0 1 1 -5 0 Z"/>
<path transform="translate(1424,0)" d="M5.3 0 H12.7 V-21.7 H5.8 L0 -17.3 L1.4 -13.6 L5.3 -15.6 Z"/>
<path transform="translate(1451.2,0)" d="M0 -3.6 a4.1 4.1 0 1 0 8.2 0 a4.1 4.1 0 1 0 -8.2 0 Z"/>
<path transform="translate(1469.7,0)" d="M16.1 -11.2 L16.1 -15.8 Q13.3 -17.4 9.8 -17.4 C3.8 -17.4 0 -13.5 0 -8.6 C0 -3.5 3.6 0.3 9.3 0.3 Q13.3 0.3 16.1 -1.2 L16.1 -5.8 Q13.8 -4.6 11.3 -4.6 C8.6 -4.6 6.9 -6 6.9 -8.6 C6.9 -11 8.6 -12.4 11.1 -12.4 Q13.8 -12.4 16.1 -11.2 Z"/>
<path transform="translate(1496.1,0)" d="M0 0 H7.4 V-9 Q7.4 -11 9.4 -11 Q11.5 -11 11.5 -9 V0 H19.1 V-11 C19.1 -15.5 16.4 -17.4 13.2 -17.4 Q9.4 -17.4 7.4 -15 V-17 H0 Z"/>
</g>
<line x1="1459.6" y1="27" x2="1459.6" y2="821.5" stroke="#434651" stroke-width="1.2"/>
<text class="ax" x="1467.6" y="767.6" textLength="41.4" lengthAdjust="spacingAndGlyphs">124.000</text>
<text class="ax" x="1467.6" y="732.2" textLength="41.4" lengthAdjust="spacingAndGlyphs">126.000</text>
<text class="ax" x="1467.6" y="696.8" textLength="41.4" lengthAdjust="spacingAndGlyphs">128.000</text>
<text class="ax" x="1467.6" y="661.4" textLength="41.4" lengthAdjust="spacingAndGlyphs">130.000</text>
<text class="ax" x="1467.6" y="626.0" textLength="41.4" lengthAdjust="spacingAndGlyphs">132.000</text>
<text class="ax" x="1467.6" y="590.6" textLength="41.4" lengthAdjust="spacingAndGlyphs">134.000</text>
<text class="ax" x="1467.6" y="555.2" textLength="41.4" lengthAdjust="spacingAndGlyphs">136.000</text>
<text class="ax" x="1467.6" y="519.8" textLength="41.4" lengthAdjust="spacingAndGlyphs">138.000</text>
<text class="ax" x="1467.6" y="484.4" textLength="41.4" lengthAdjust="spacingAndGlyphs">140.000</text>
<text class="ax" x="1467.6" y="449.0" textLength="41.4" lengthAdjust="spacingAndGlyphs">142.000</text>
<text class="ax" x="1467.6" y="413.6" textLength="41.4" lengthAdjust="spacingAndGlyphs">144.000</text>
<text class="ax" x="1467.6" y="378.2" textLength="41.4" lengthAdjust="spacingAndGlyphs">146.000</text>
<text class="ax" x="1467.6" y="342.8" textLength="41.4" lengthAdjust="spacingAndGlyphs">148.000</text>
<text class="ax" x="1467.6" y="307.4" textLength="41.4" lengthAdjust="spacingAndGlyphs">150.000</text>
<text class="ax" x="1467.6" y="272.0" textLength="41.4" lengthAdjust="spacingAndGlyphs">152.000</text>
<text class="ax" x="1467.6" y="236.6" textLength="41.4" lengthAdjust="spacingAndGlyphs">154.000</text>
<text class="ax" x="1467.6" y="201.2" textLength="41.4" lengthAdjust="spacingAndGlyphs">156.000</text>
<text class="ax" x="1467.6" y="165.8" textLength="41.4" lengthAdjust="spacingAndGlyphs">158.000</text>
<text class="ax" x="1467.6" y="130.4" textLength="41.4" lengthAdjust="spacingAndGlyphs">160.000</text>
<text class="ax" x="1467.6" y="95.0" textLength="41.4" lengthAdjust="spacingAndGlyphs">162.000</text>
<rect x="1462.5" y="31" width="52.6" height="26" rx="4" fill="#fff" stroke="#e0e3eb" stroke-width="1.2"/>
<text x="1472" y="48.7" font-size="12.4px" fill="#131722" textLength="17.6" lengthAdjust="spacingAndGlyphs">JPY</text>
<path d="M1459.2 198.9 H1513 a2 2 0 0 1 2 2 V213.70000000000002 a2 2 0 0 1 -2 2 H1459.2 Z" fill="#f23645"/>
<text class="lb" x="1467.8" y="212.1" textLength="41" lengthAdjust="spacingAndGlyphs">155.000</text>
<path d="M1459.2 216.3 H1513 a2 2 0 0 1 2 2 V244.7 a2 2 0 0 1 -2 2 H1459.2 Z" fill="#26a69a"/>
<text class="lb" x="1468.2" y="229" textLength="40.8" lengthAdjust="spacingAndGlyphs">154.464</text>
<text class="lb" x="1468.2" y="242.7" fill-opacity="0.75" textLength="34.6" lengthAdjust="spacingAndGlyphs" style="fill-opacity:.75">1d 11h</text>
<path d="M1410 216.3 H1458.2 V232.9 H1410 a2 2 0 0 1 -2 -2 V218.3 a2 2 0 0 1 2 -2 Z" fill="#26a69a"/>
<text class="lb" x="1412.7" y="229" textLength="40.6" lengthAdjust="spacingAndGlyphs">USDJPY</text>
<path d="M1459.2 261 H1513 a2 2 0 0 1 2 2 V275.8 a2 2 0 0 1 -2 2 H1459.2 Z" fill="#f23645"/>
<text class="lb" x="1467.8" y="274" textLength="41" lengthAdjust="spacingAndGlyphs">151.944</text>
<path d="M1459.2 294.8 H1513 a2 2 0 0 1 2 2 V309.6 a2 2 0 0 1 -2 2 H1459.2 Z" fill="#f23645"/>
<text class="lb" x="1467.8" y="307.8" textLength="41" lengthAdjust="spacingAndGlyphs">150.000</text>
<path d="M1459.2 356.2 H1513 a2 2 0 0 1 2 2 V371.0 a2 2 0 0 1 -2 2 H1459.2 Z" fill="#000"/>
<text class="lb" x="1467.8" y="368.9" textLength="41" lengthAdjust="spacingAndGlyphs">146.560</text>
<path d="M1459.2 468 H1513 a2 2 0 0 1 2 2 V482.8 a2 2 0 0 1 -2 2 H1459.2 Z" fill="#000"/>
<text class="lb" x="1467.8" y="481" textLength="41" lengthAdjust="spacingAndGlyphs">140.249</text>
<path d="M1459.2 510 H1513 a2 2 0 0 1 2 2 V524.7 a2 2 0 0 1 -2 2 H1459.2 Z" fill="#000"/>
<text class="lb" x="1467.8" y="522.9" textLength="41" lengthAdjust="spacingAndGlyphs">137.855</text>
<path d="M1459.2 626 H1513 a2 2 0 0 1 2 2 V641.4 a2 2 0 0 1 -2 2 H1459.2 Z" fill="#2962ff"/>
<text class="lb" x="1467.8" y="639.2" textLength="41" lengthAdjust="spacingAndGlyphs">131.350</text>
<path d="M1459.2 642.4 H1513 a2 2 0 0 1 2 2 V657.0 a2 2 0 0 1 -2 2 H1459.2 Z" fill="#2962ff"/>
<text class="lb" x="1467.8" y="655.8" textLength="41" lengthAdjust="spacingAndGlyphs">131.346</text>
</svg></body></html>
